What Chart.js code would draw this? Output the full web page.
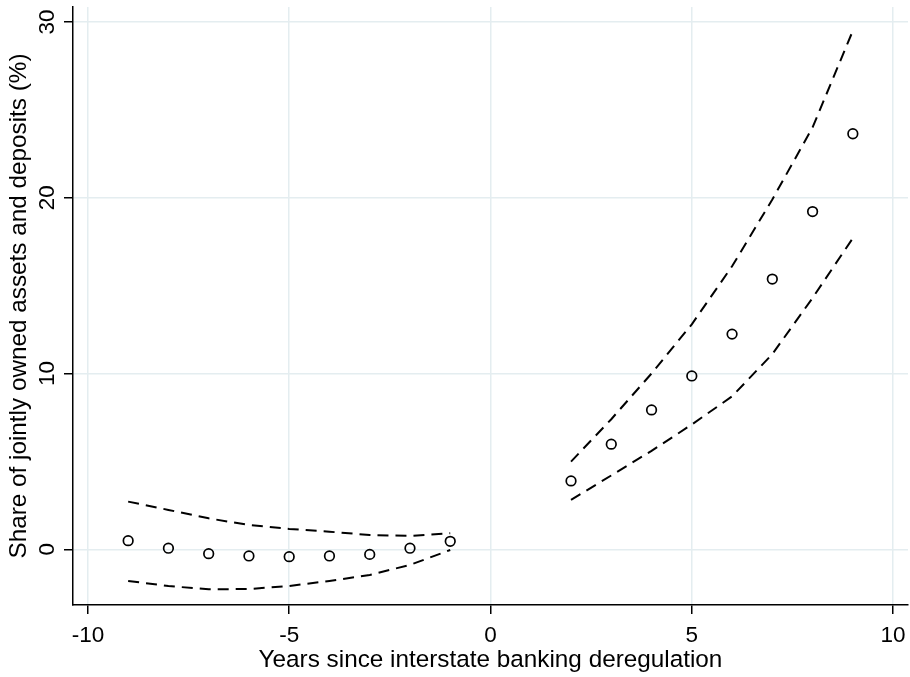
<!DOCTYPE html>
<html>
<head>
<meta charset="utf-8">
<script src="https://cdn.jsdelivr.net/npm/chart.js@4/dist/chart.umd.min.js"></script>
<style>
html,body{margin:0;padding:0;background:#fff;overflow:hidden;}
#wrap{width:910px;height:677px;}
canvas{display:block;}
</style>
</head>
<body>
<div id="wrap"><canvas id="c" width="910" height="677"></canvas></div>
<script>
const yearsPre = [-9, -8, -7, -6, -5, -4, -3, -2, -1];
const yearsPost = [2, 3, 4, 5, 6, 7, 8, 9];
const estPre = [0.49, 0.06, -0.25, -0.38, -0.42, -0.38, -0.29, 0.06, 0.45];
const upperPre = [2.71, 2.24, 1.76, 1.38, 1.16, 1.0, 0.81, 0.76, 0.91];
const lowerPre = [-1.80, -2.09, -2.28, -2.26, -2.09, -1.80, -1.46, -0.89, -0.04];
const estPost = [3.89, 5.98, 7.93, 9.86, 12.24, 15.37, 19.21, 23.64];
const upperPost = [4.99, 7.4, 10.0, 12.8, 16.1, 19.9, 24.0, 29.5];
const lowerPost = [2.81, 4.2, 5.6, 7.1, 8.7, 11.1, 14.3, 17.7];
const xTicks = [-10, -5, 0, 5, 10];
const yTicks = [0, 10, 20, 30];
const xTitle = 'Years since interstate banking deregulation';
const yTitle = 'Share of jointly owned assets and deposits (%)';

const FONT = '"Liberation Sans", Arial, Helvetica, sans-serif';
const TICK_SIZE = 22.5;
const TITLE_SIZE = 24.3;
const pts = (xs, ys) => xs.map((x, i) => ({x: x, y: ys[i]}));

const dashLine = (data) => ({
  type: 'line', data: data, borderColor: '#000', borderWidth: 2,
  borderDash: [11, 7], pointRadius: 0, fill: false, tension: 0
});

// Draws the tick labels through the chart's own scales
const tickLabelPlugin = {
  id: 'tickLabels',
  afterDraw(chart) {
    const ctx = chart.ctx, xs = chart.scales.x, ys = chart.scales.y;
    ctx.save();
    ctx.fillStyle = '#000';
    ctx.font = TICK_SIZE + 'px ' + FONT;
    ctx.textAlign = 'center';
    ctx.textBaseline = 'alphabetic';
    yTicks.forEach(v => {
      const py = ys.getPixelForValue(v);
      ctx.save();
      ctx.translate(53.5, py);
      ctx.rotate(-Math.PI / 2);
      ctx.fillText(String(v), 0, 0);
      ctx.restore();
    });
    xTicks.forEach(v => {
      ctx.fillText(String(v), xs.getPixelForValue(v), xs.top + 37);
    });
    ctx.restore();
  }
};

new Chart(document.getElementById('c'), {
  data: {
    datasets: [
      dashLine(pts(yearsPre, upperPre)),
      dashLine(pts(yearsPre, lowerPre)),
      dashLine(pts(yearsPost, upperPost)),
      dashLine(pts(yearsPost, lowerPost)),
      {
        type: 'scatter',
        data: pts(yearsPre, estPre).concat(pts(yearsPost, estPost)),
        borderColor: '#000', backgroundColor: 'rgba(0,0,0,0)',
        pointRadius: 4.8, borderWidth: 1.7, pointStyle: 'circle'
      }
    ]
  },
  options: {
    responsive: false,
    animation: false,
    events: [],
    layout: {autoPadding: false, padding: {left: 0, top: 7, right: 2, bottom: 0}},
    plugins: {legend: {display: false}, tooltip: {enabled: false}},
    scales: {
      x: {
        type: 'linear', min: -10.37, max: 10.37,
        afterBuildTicks: s => { s.ticks = xTicks.map(v => ({value: v})); },
        afterFit: s => { s.height = 72; s.paddingLeft = 0; s.paddingRight = 0; },
        grid: {color: '#e4edf0', lineWidth: 1.5, drawTicks: true, tickLength: 9, tickColor: '#000', tickWidth: 1.5},
        border: {display: true, color: '#000', width: 1.5},
        ticks: {display: false},
        title: {display: true, text: xTitle, color: '#000', font: {family: FONT, size: TITLE_SIZE}, padding: {top: 0, bottom: 2.6}}
      },
      y: {
        type: 'linear', min: -3.17, max: 30.85,
        afterBuildTicks: s => { s.ticks = yTicks.map(v => ({value: v})); },
        afterFit: s => { s.width = 73; s.paddingTop = 0; s.paddingBottom = 0; },
        grid: {color: '#e4edf0', lineWidth: 1.5, drawTicks: true, tickLength: 9, tickColor: '#000', tickWidth: 1.5},
        border: {display: true, color: '#000', width: 1.5},
        ticks: {display: false},
        title: {display: true, text: yTitle, color: '#000', font: {family: FONT, size: TITLE_SIZE}, padding: {top: 4.6, bottom: 0}}
      }
    }
  },
  plugins: [tickLabelPlugin]
});
</script>
</body>
</html>
